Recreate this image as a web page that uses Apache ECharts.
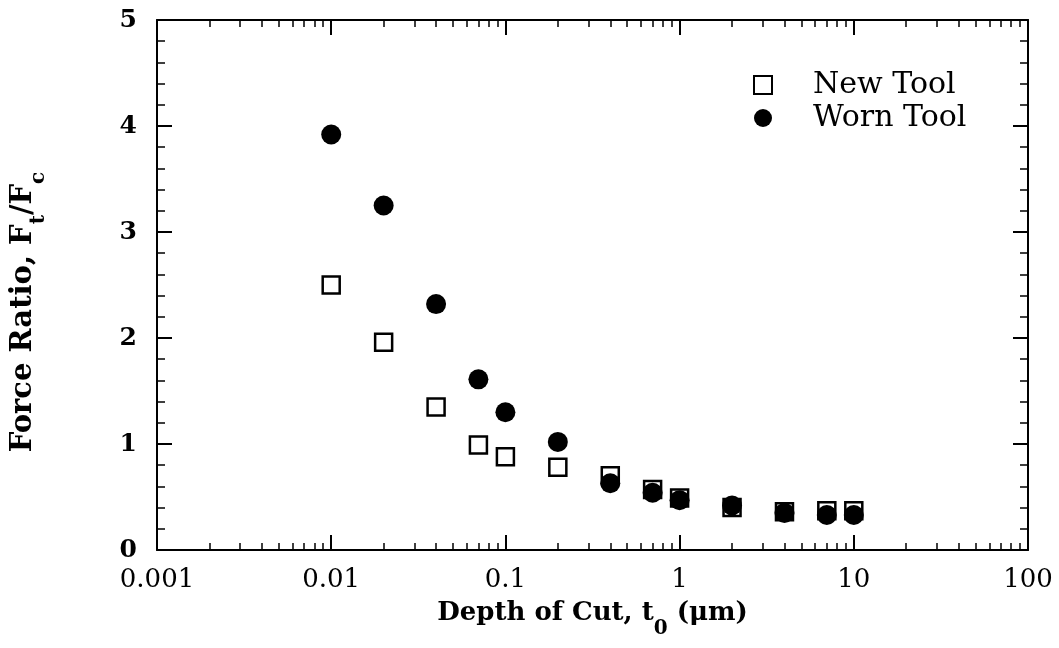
<!DOCTYPE html>
<html>
<head>
<meta charset="utf-8">
<script src="https://cdn.jsdelivr.net/npm/echarts@6/dist/echarts.min.js"></script>
<style>
  html, body { margin: 0; background: #fff; }
  #chart { width: 1059px; height: 648px; }
</style>
</head>
<body>
<div id="chart"></div>
<script>
// depth of cut (um) and force ratio Ft/Fc
const depth = [0.01, 0.02, 0.04, 0.07, 0.1, 0.2, 0.4, 0.7, 1, 2, 4, 7, 10]
const newTool = [2.50, 1.96, 1.35, 0.99, 0.88, 0.78, 0.70, 0.57, 0.49, 0.40, 0.36, 0.37, 0.37]
const wornTool = [3.92, 3.25, 2.32, 1.61, 1.30, 1.02, 0.63, 0.54, 0.47, 0.42, 0.35, 0.33, 0.33]

const xLabels = ['0.001', '0.01', '0.1', '1', '10', '100']
const yLabels = ['0', '1', '2', '3', '4', '5']
// minor ticks at 2..9 of each decade, in log10 units for the helper axis
const minorTicks = []
for (let k = -3; k < 2; k++) {
  for (let m = 2; m <= 9; m++) minorTicks.push(k + Math.log10(m))
}

const font = 'DejaVu Serif'
const black = '#000'

const chart = echarts.init(document.getElementById('chart'))

const line = {show: true, onZero: false, lineStyle: {color: black, width: 2}}

function majorX(position, showLabel) {
  return {
    type: 'log', logBase: 10, min: 0.001, max: 100, position,
    axisLine: line,
    axisTick: {show: true, inside: true, length: 15, lineStyle: {color: black, width: 2}},
    axisLabel: {
      show: showLabel, margin: 17, color: black, fontFamily: font, fontSize: 26,
      formatter: v => xLabels[Math.round(Math.log10(v)) + 3]
    },
    splitLine: {show: false}
  }
}

function minorX(position) {
  return {
    type: 'value', min: -3, max: 2, position,
    axisLine: {show: false, onZero: false},
    axisTick: {show: true, inside: true, length: 7, customValues: minorTicks, lineStyle: {color: black, width: 1.5}},
    axisLabel: {show: false},
    splitLine: {show: false}
  }
}

function yAx(position, showLabel) {
  return {
    type: 'value', min: 0, max: 5, interval: 1, position,
    axisLine: line,
    axisTick: {show: true, inside: true, length: 15, lineStyle: {color: black, width: 2}},
    minorTick: {show: true, splitNumber: 5, length: 8, lineStyle: {color: black, width: 1.5}},
    axisLabel: {
      show: showLabel, margin: 20, color: black, fontFamily: font, fontSize: 25, fontWeight: 'bold',
      formatter: v => yLabels[Math.round(v)]
    },
    splitLine: {show: false}
  }
}

const sub = {fontFamily: font, fontSize: 20, fontWeight: 'bold', verticalAlign: 'bottom', color: black}

const xName = majorX('bottom', true)
xName.name = 'Depth of Cut, t{sub|0} (μm)'
xName.nameLocation = 'middle'
xName.nameGap = 37
xName.nameMoveOverlap = false
xName.nameTextStyle = {
  color: black, fontFamily: font, fontSize: 26, fontWeight: 'bold', lineHeight: 52,
  rich: {sub}
}

const yName = yAx('left', true)
yName.name = 'Force Ratio, F{sub|t}/F{sub|c}'
yName.nameLocation = 'middle'
yName.nameGap = 108
yName.nameMoveOverlap = false
yName.nameTextStyle = {
  color: black, fontFamily: font, fontSize: 29, fontWeight: 'bold', lineHeight: 52,
  padding: [0, 54, 0, 0],
  rich: {sub}
}

chart.setOption({
  animation: false,
  backgroundColor: '#fff',
  grid: {left: 157, right: 31, top: 20, bottom: 98, containLabel: false, outerBoundsMode: 'none'},
  xAxis: [xName, minorX('bottom'), majorX('top', false), minorX('top')],
  yAxis: [yName, yAx('right', false)],
  legend: {
    orient: 'vertical', left: 748, top: 65, itemWidth: 18, itemHeight: 18, itemGap: 3,
    textStyle: {color: black, fontFamily: font, fontSize: 30, padding: [0, 0, 0, 36]},
    data: [{name: 'New Tool', icon: 'rect'}, {name: 'Worn Tool', icon: 'circle'}]
  },
  series: [
    {
      name: 'New Tool', type: 'scatter', xAxisIndex: 0, yAxisIndex: 0,
      symbol: 'rect', symbolSize: 17,
      itemStyle: {color: '#fff', borderColor: black, borderWidth: 2.5, opacity: 1},
      data: depth.map((d, i) => [d, newTool[i]])
    },
    {
      name: 'Worn Tool', type: 'scatter', xAxisIndex: 0, yAxisIndex: 0,
      symbol: 'circle', symbolSize: 20,
      itemStyle: {color: black, opacity: 1},
      data: depth.map((d, i) => [d, wornTool[i]])
    }
  ]
})

window.addEventListener('resize', () => chart.resize())
</script>
</body>
</html>
